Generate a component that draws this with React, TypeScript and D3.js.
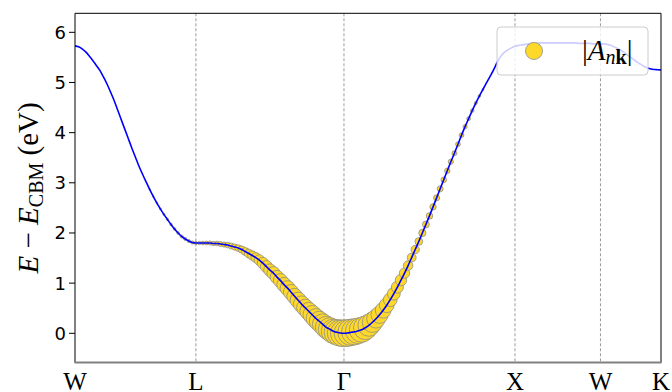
import { useEffect, useRef } from "react";
import * as d3 from "d3";

// high-symmetry points along the path and the k-distance of each segment
const tickLabels = ["W", "L", "Γ", "X", "W", "K"];
const segLengths = [0.707, 0.866, 1.0, 0.5, 0.354];

// band energy (eV) sampled evenly along each segment
const bandWL = [
  5.73, 5.71, 5.67, 5.61, 5.53, 5.44, 5.34, 5.24, 5.11, 4.97, 4.81, 4.64, 4.45, 4.26, 4.07, 3.88, 3.69,
  3.51, 3.33, 3.17, 3.02, 2.87, 2.73, 2.6, 2.48, 2.37, 2.27, 2.17, 2.08, 2.0, 1.93, 1.88, 1.84, 1.81, 1.8,
];
const bandLG = [
  1.8, 1.8, 1.8, 1.8, 1.8, 1.79, 1.79, 1.78, 1.77, 1.76, 1.74, 1.72, 1.7, 1.67, 1.63, 1.59, 1.55, 1.51,
  1.46, 1.4, 1.33, 1.26, 1.2, 1.12, 1.05, 0.97, 0.9, 0.82, 0.74, 0.66, 0.58, 0.51, 0.44, 0.37, 0.3, 0.24,
  0.18, 0.12, 0.08, 0.04, 0.02, 0.005, 0.0,
];
const bandGX = [
  0.0, 0.005, 0.02, 0.03, 0.05, 0.07, 0.11, 0.16, 0.22, 0.29, 0.37, 0.46, 0.56, 0.67, 0.79, 0.92, 1.06,
  1.2, 1.35, 1.51, 1.67, 1.83, 2.0, 2.17, 2.34, 2.52, 2.7, 2.88, 3.06, 3.24, 3.42, 3.59, 3.77, 3.95, 4.12,
  4.28, 4.44, 4.59, 4.73, 4.86, 4.99, 5.12, 5.25, 5.4, 5.52, 5.6, 5.65, 5.69, 5.72,
];
const bandXW = [
  5.72, 5.74, 5.75, 5.76, 5.77, 5.78, 5.78, 5.79, 5.79, 5.79, 5.79, 5.79, 5.79, 5.79, 5.79, 5.79, 5.79,
  5.79, 5.78, 5.78, 5.78, 5.78, 5.77, 5.77, 5.77,
];
const bandWK = [
  5.77, 5.77, 5.76, 5.74, 5.71, 5.68, 5.64, 5.6, 5.55, 5.5, 5.45, 5.4, 5.36, 5.32, 5.29, 5.27, 5.26, 5.255,
  5.25,
];

// exciton weight |A_nk| at the same k-points (normalised)
const weightWL = [
  0, 0, 0, 0, 0, 0, 0, 0, 0, 0, 0, 0, 0, 0, 0, 0, 0, 0, 0, 0, 0, 0.003, 0.004, 0.004, 0.005, 0.006,
  0.007, 0.008, 0.009, 0.01, 0.011, 0.012, 0.013, 0.014, 0.015,
];
const weightLG = [
  0.013, 0.015, 0.018, 0.02, 0.024, 0.026, 0.03, 0.034, 0.037, 0.043, 0.048, 0.053, 0.061, 0.072, 0.085,
  0.104, 0.12, 0.136, 0.154, 0.179, 0.199, 0.213, 0.235, 0.25, 0.274, 0.29, 0.307, 0.32, 0.333, 0.355,
  0.379, 0.403, 0.428, 0.469, 0.512, 0.545, 0.592, 0.665, 0.742, 0.81, 0.895, 0.954, 1.0,
];
const weightGX = [
  1.0, 0.985, 0.969, 0.939, 0.895, 0.852, 0.769, 0.665, 0.568, 0.479, 0.408, 0.342, 0.298, 0.258, 0.227,
  0.199, 0.179, 0.148, 0.125, 0.109, 0.095, 0.081, 0.072, 0.064, 0.059, 0.055, 0.051, 0.048, 0.043, 0.04,
  0.037, 0.034, 0.031, 0.029, 0.024, 0.02, 0.017, 0.013, 0.009, 0.004, 0, 0, 0, 0, 0, 0, 0, 0, 0,
];

const yTicks = [0, 1, 2, 3, 4, 5, 6];

type Pt = { k: number; e: number; w: number };

export default function App() {
  const svgRef = useRef<SVGSVGElement>(null);

  useEffect(() => {
    if (!svgRef.current) return;
    const svg = d3.select(svgRef.current);
    svg.selectAll("*").remove();

    const left = 75;
    const right = 661;
    const top = 13.3;
    const bottom = 362.5;

    const kTicks = [0, ...d3.cumsum(segLengths)];
    const x = d3.scaleLinear().domain([0, kTicks[kTicks.length - 1]]).range([left, right]);
    const y = d3.scaleLinear().domain([-0.582, 6.379]).range([bottom, top]);
    const r = d3.scaleSqrt().domain([0, 1]).range([0, 13.5]);

    // build k-path points, dropping the repeated first point of each later segment
    const bands = [bandWL, bandLG, bandGX, bandXW, bandWK];
    const weights = [weightWL, weightLG, weightGX, [], []];
    const pts: Pt[] = [];
    bands.forEach((band, s) => {
      band.forEach((e, i) => {
        if (s > 0 && i === 0) return;
        const k = kTicks[s] + (i / (band.length - 1)) * segLengths[s];
        pts.push({ k, e, w: weights[s][i] ?? 0 });
      });
    });

    svg
      .append("defs")
      .append("clipPath")
      .attr("id", "plot-clip")
      .append("rect")
      .attr("x", left)
      .attr("y", top)
      .attr("width", right - left)
      .attr("height", bottom - top);

    // dashed lines at the inner high-symmetry points
    svg
      .append("g")
      .selectAll("line")
      .data(kTicks.slice(1, -1))
      .join("line")
      .attr("x1", (d) => x(d))
      .attr("x2", (d) => x(d))
      .attr("y1", top)
      .attr("y2", bottom)
      .attr("stroke", "#808080")
      .attr("stroke-width", 0.8)
      .attr("stroke-dasharray", "3,2");

    const plot = svg.append("g").attr("clip-path", "url(#plot-clip)");

    plot
      .append("g")
      .selectAll("circle")
      .data(pts.filter((p) => p.w > 0))
      .join("circle")
      .attr("cx", (d) => x(d.k))
      .attr("cy", (d) => y(d.e))
      .attr("r", (d) => r(d.w))
      .attr("fill", "#ffd92a")
      .attr("stroke", "#8c8c8c")
      .attr("stroke-width", 0.8);

    const line = d3
      .line<Pt>()
      .x((d) => x(d.k))
      .y((d) => y(d.e))
      .curve(d3.curveMonotoneX);

    plot
      .append("path")
      .datum(pts)
      .attr("d", line)
      .attr("fill", "none")
      .attr("stroke", "#0000ff")
      .attr("stroke-width", 1.6);

    // spines
    const spine = svg.append("g");
    spine.append("line").attr("x1", left).attr("x2", left).attr("y1", top).attr("y2", bottom).attr("stroke", "#000");
    spine.append("line").attr("x1", right).attr("x2", right).attr("y1", top).attr("y2", bottom).attr("stroke", "#000");
    spine.append("line").attr("x1", left).attr("x2", right).attr("y1", top).attr("y2", top).attr("stroke", "#000");
    spine
      .append("line")
      .attr("x1", left - 0.5)
      .attr("x2", right + 0.5)
      .attr("y1", bottom)
      .attr("y2", bottom)
      .attr("stroke", "#808080")
      .attr("stroke-width", 2);

    // y axis ticks
    const yt = svg.append("g").selectAll("g").data(yTicks).join("g");
    yt.append("line")
      .attr("x1", left - 6)
      .attr("x2", left)
      .attr("y1", (d) => y(d))
      .attr("y2", (d) => y(d))
      .attr("stroke", "#000");
    yt.append("text")
      .attr("x", left - 9)
      .attr("y", (d) => y(d))
      .attr("dy", "0.36em")
      .attr("text-anchor", "end")
      .attr("font-family", "DejaVu Sans")
      .attr("font-size", 18)
      .text((d) => d);

    // k-path labels
    svg
      .append("g")
      .selectAll("text")
      .data(kTicks)
      .join("text")
      .attr("x", (d) => x(d))
      .attr("y", 389.5)
      .attr("text-anchor", "middle")
      .attr("font-family", "Liberation Serif")
      .attr("font-size", 25)
      .text((_d, i) => tickLabels[i]);

    // y label
    const yl = svg
      .append("text")
      .attr("transform", `translate(38,${(top + bottom) / 2}) rotate(-90)`)
      .attr("text-anchor", "middle")
      .attr("font-family", "Liberation Serif")
      .attr("font-size", 29);
    yl.append("tspan").attr("font-style", "italic").text("E");
    yl.append("tspan").text(" − ");
    yl.append("tspan").attr("font-style", "italic").text("E");
    yl.append("tspan").attr("font-size", 20).attr("dy", 5).text("CBM");
    yl.append("tspan").attr("dy", -5).text(" (eV)");

    // legend
    const lg = svg.append("g");
    lg.append("rect")
      .attr("x", 497)
      .attr("y", 27)
      .attr("width", 151)
      .attr("height", 48)
      .attr("rx", 4)
      .attr("fill", "#fff")
      .attr("fill-opacity", 0.8)
      .attr("stroke", "#cccccc");
    lg.append("circle")
      .attr("cx", 534)
      .attr("cy", 51)
      .attr("r", 8.5)
      .attr("fill", "#ffd92a")
      .attr("stroke", "#8c8c8c")
      .attr("stroke-width", 0.8);
    const lt = lg
      .append("text")
      .attr("x", 582)
      .attr("y", 60)
      .attr("font-family", "Liberation Serif")
      .attr("font-size", 29);
    lt.append("tspan").text("|");
    lt.append("tspan").attr("font-style", "italic").text("A");
    lt.append("tspan").attr("font-size", 20).attr("dy", 4).attr("font-style", "italic").text("n");
    lt.append("tspan").attr("font-size", 20).attr("font-weight", "bold").text("k");
    lt.append("tspan").attr("dy", -4).text("|");
  }, []);

  return (
    <svg
      ref={svgRef}
      width={672}
      height={392}
      style={{ position: "fixed", left: 0, top: 0, background: "#fff" }}
    />
  );
}
